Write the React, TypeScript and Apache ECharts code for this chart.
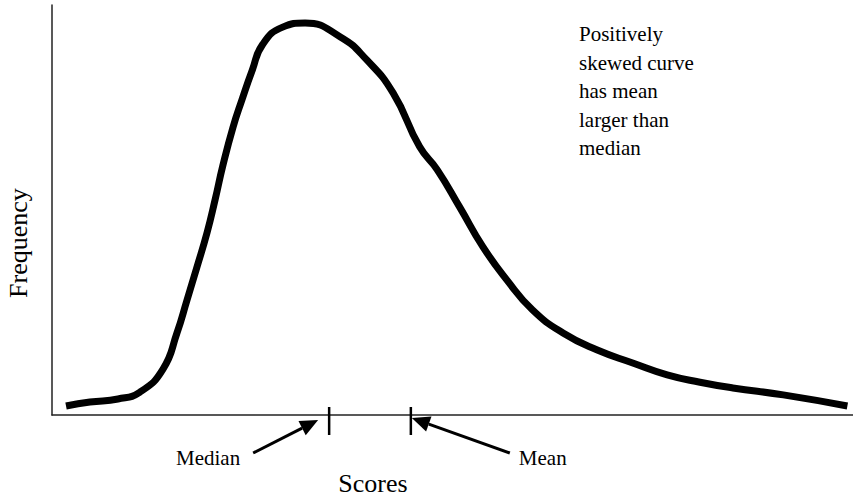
import React, { useEffect, useRef } from "react";
import * as echarts from "echarts";

// Curve (scores on 0..100, frequency on 0..100)
const scores = [1.75, 4.74, 8.24, 10.99, 13.86, 15.6, 16.85, 18.1, 19.35, 20.35, 21.35, 22.6, 23.7, 25.0, 26.3, 28.8, 31.6, 36.0, 39.3, 42.6, 45.9, 48.1, 50.9, 53.8, 56.8, 60.0, 63.8, 68.0, 72.5, 76.8, 80.9, 85.0, 91.3, 99.3];
const frequency = [2.2, 3.17, 3.9, 5.6, 11.2, 20.0, 28.0, 36.1, 44.4, 52.4, 61.0, 70.2, 76.8, 84.1, 90.4, 94.6, 95.6, 92.2, 86.6, 78.5, 65.4, 59.8, 50.7, 41.0, 32.9, 25.6, 20.0, 15.9, 12.7, 9.8, 8.0, 6.6, 4.9, 2.2];
const markerNames = ["Median", "Mean"];
const markerScores = [34.6, 44.8];
const noteLines = ["Positively", "skewed curve", "has mean", "larger than", "median"];
const xAxisTitle = "Scores";
const yAxisTitle = "Frequency";

const FONT = "'Liberation Serif', 'Times New Roman', serif";

export default function App() {
  const ref = useRef<HTMLDivElement>(null);
  useEffect(() => {
    if (!ref.current) return;
    const chart = echarts.init(ref.current, undefined, { renderer: "svg" });
    chart.setOption({
      animation: false,
      grid: { left: 52, right: 0, top: 5, bottom: 81 },
      xAxis: {
        type: "value",
        min: 0,
        max: 100,
        axisLine: { show: true, lineStyle: { color: "#222", width: 1.5 } },
        axisTick: { show: false },
        axisLabel: { show: false },
        splitLine: { show: false },
      },
      yAxis: {
        type: "value",
        min: 0,
        max: 100,
        axisLine: { show: true, lineStyle: { color: "#222", width: 1.5 } },
        axisTick: { show: false },
        axisLabel: { show: false },
        splitLine: { show: false },
      },
      series: [
        {
          type: "line",
          data: scores.map((s, i) => [s, frequency[i]]),
          smooth: 0.5,
          showSymbol: false,
          lineStyle: { color: "#000", width: 7 },
        },
        {
          type: "custom",
          clip: false,
          data: markerScores.map((s) => [s, 0]),
          renderItem: (params: any, api: any) => {
            const i = params.dataIndex;
            const [px, py] = api.coord([api.value(0), 0]);
            const left = i === 0;
            const tip = left ? [px - 11, py + 5] : [px + 1, py + 3];
            const tail = left ? [px - 76, py + 38] : [px + 99, py + 38];
            const dx = tip[0] - tail[0];
            const dy = tip[1] - tail[1];
            const len = Math.sqrt(dx * dx + dy * dy);
            const ux = dx / len, uy = dy / len;
            const nx = -uy, ny = ux;
            const hl = 18, hw = 8;
            const bx = tip[0] - ux * hl, by = tip[1] - uy * hl;
            return {
              type: "group",
              children: [
                {
                  type: "line",
                  shape: { x1: px, y1: py - 8, x2: px, y2: py + 20 },
                  style: { stroke: "#000", lineWidth: 2.5 },
                },
                {
                  type: "line",
                  shape: { x1: tail[0], y1: tail[1], x2: bx, y2: by },
                  style: { stroke: "#000", lineWidth: 3 },
                },
                {
                  type: "polygon",
                  shape: {
                    points: [
                      tip,
                      [bx + nx * hw, by + ny * hw],
                      [bx - nx * hw, by - ny * hw],
                    ],
                  },
                  style: { fill: "#000" },
                },
                {
                  type: "text",
                  x: left ? tail[0] - 13 : tail[0] + 9,
                  y: py + 43,
                  style: {
                    text: markerNames[i],
                    fill: "#000",
                    font: `21px ${FONT}`,
                    align: left ? "right" : "left",
                    verticalAlign: "middle",
                  },
                },
              ],
            };
          },
        },
      ],
      graphic: [
        {
          type: "text",
          x: 579,
          y: 20,
          style: {
            text: noteLines.join("\n"),
            fill: "#000",
            font: `21px ${FONT}`,
            lineHeight: 28.5,
            align: "left",
            verticalAlign: "top",
          },
        },
        {
          type: "text",
          x: 373,
          y: 483,
          style: {
            text: xAxisTitle,
            fill: "#000",
            font: `26px ${FONT}`,
            align: "center",
            verticalAlign: "middle",
          },
        },
        {
          type: "text",
          x: 18,
          y: 243,
          rotation: Math.PI / 2,
          style: {
            text: yAxisTitle,
            fill: "#000",
            font: `26px ${FONT}`,
            align: "center",
            verticalAlign: "middle",
          },
        },
      ],
    });
    return () => chart.dispose();
  }, []);
  return <div ref={ref} style={{ width: 853, height: 496, position: "fixed", left: 0, top: 0, background: "#fff" }} />;
}
